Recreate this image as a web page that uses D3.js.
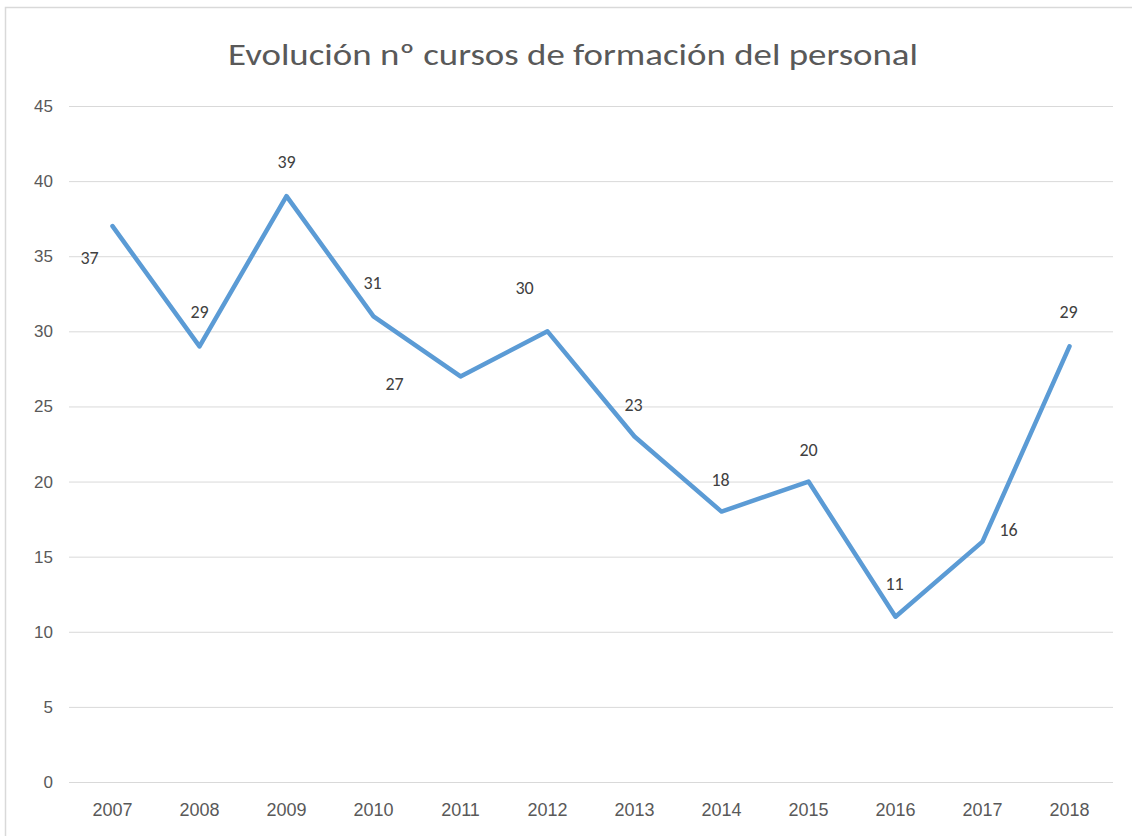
<!DOCTYPE html>
<html>
<head>
<meta charset="utf-8">
<script src="https://cdn.jsdelivr.net/npm/d3@7"></script>
<style>
  html, body { margin: 0; padding: 0; background: #fff; }
  svg { display: block; font-family: Carlito, Calibri, Lato, sans-serif; }
</style>
</head>
<body>
<div id="chart"></div>
<script>
// ── data ──
const years = ['2007','2008','2009','2010','2011','2012','2013','2014','2015','2016','2017','2018'];
const cursos = [37, 29, 39, 31, 27, 30, 23, 18, 20, 11, 16, 29];
const yTicks = [0, 5, 10, 15, 20, 25, 30, 35, 40, 45];
const titleText = 'Evolución nº cursos de formación del personal';

// label nudges (px) relative to each point, as placed in the original
const labelOffsets = [[-23, 25], [0, -41], [0, -41], [-1, -40], [-66, 1], [-23, -50],
                      [-1, -38], [-1, -38], [0, -38], [-1, -39], [26, -18], [-1, -41]];

const W = 1132, H = 836;
const margin = { top: 106, right: 19, bottom: 54, left: 69 };

const svg = d3.select('#chart').append('svg')
  .attr('width', W)
  .attr('height', H);

// frame (only top/left visible in the crop)
svg.append('path')
  .attr('d', `M5.5,${H} V7.5 H${W}`)
  .attr('fill', 'none')
  .attr('stroke', '#d9d9d9')
  .attr('stroke-width', 1.5);

const x = d3.scaleBand()
  .domain(years)
  .range([margin.left, W - margin.right]);

const y = d3.scaleLinear()
  .domain([0, 45])
  .range([H - margin.bottom, margin.top]);

// title
svg.append('text')
  .attr('x', 573)
  .attr('y', 65)
  .attr('text-anchor', 'middle')
  .attr('fill', '#595959')
  .attr('font-size', '31px')
  .attr('font-weight', 300)
  .attr('textLength', 690)
  .attr('lengthAdjust', 'spacingAndGlyphs')
  .text(titleText);

// gridlines + y labels
const yAxis = d3.axisLeft(y)
  .tickValues(yTicks)
  .tickSize(-(W - margin.left - margin.right))
  .tickPadding(16);

const gy = svg.append('g')
  .attr('transform', `translate(${margin.left},0)`)
  .call(yAxis);
gy.select('.domain').remove();
gy.selectAll('.tick line').attr('stroke', '#d9d9d9').attr('stroke-width', 1);
gy.selectAll('.tick text')
  .attr('fill', '#595959')
  .attr('font-size', '17px')
  .attr('font-family', 'inherit');

// x labels
const xAxis = d3.axisBottom(x).tickSize(0).tickPadding(21);
const gx = svg.append('g')
  .attr('transform', `translate(0,${H - margin.bottom})`)
  .call(xAxis);
gx.select('.domain').remove();
gx.selectAll('.tick text')
  .attr('fill', '#595959')
  .attr('font-size', '18px')
  .attr('font-family', 'inherit');

const cx = d => x(d) + x.bandwidth() / 2;

// line
const line = d3.line()
  .x((d, i) => cx(years[i]))
  .y(d => y(d));

svg.append('path')
  .datum(cursos)
  .attr('d', line)
  .attr('fill', 'none')
  .attr('stroke', '#5b9bd5')
  .attr('stroke-width', 4.5)
  .attr('stroke-linejoin', 'round')
  .attr('stroke-linecap', 'round');

// data labels
svg.append('g').selectAll('text')
  .data(cursos)
  .join('text')
  .attr('x', (d, i) => cx(years[i]) + labelOffsets[i][0])
  .attr('y', (d, i) => y(d) + labelOffsets[i][1])
  .attr('dy', '0.7em')
  .attr('text-anchor', 'middle')
  .attr('fill', '#404040')
  .attr('font-size', '18px')
  .text(d => d);
</script>
</body>
</html>
